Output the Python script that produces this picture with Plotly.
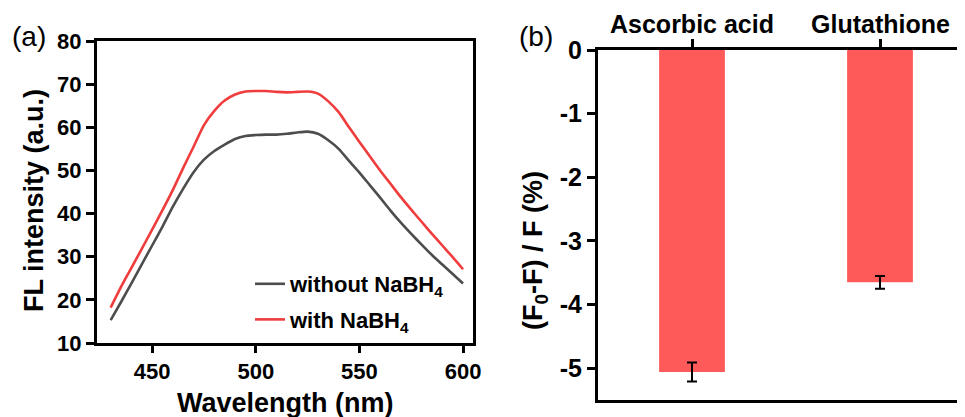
import plotly.graph_objects as go

# ---------------- data ----------------
wavelength = [430, 435, 440, 445, 450, 455, 460, 465, 470, 475, 480, 485, 490, 495,
              500, 505, 510, 515, 520, 525, 530, 535, 540, 545, 550, 555, 560, 565,
              570, 575, 580, 585, 590, 595, 600]
with_nabh4 = [18.2, 23.0, 27.4, 31.8, 36.3, 40.8, 45.5, 50.6, 55.5, 60.5, 63.8, 66.2, 67.6, 68.3,
              68.4, 68.4, 68.2, 68.1, 68.2, 68.3, 67.8, 66.0, 63.5, 60.0, 56.6, 53.3, 50.0, 46.9,
              43.8, 40.9, 38.1, 35.3, 32.6, 29.9, 27.1]
without_nabh4 = [15.3, 19.5, 23.8, 28.2, 32.6, 37.0, 41.6, 45.8, 49.6, 52.5, 54.5, 56.0, 57.3, 58.0,
                 58.2, 58.3, 58.3, 58.5, 58.8, 59.0, 58.5, 57.0, 55.0, 52.2, 49.5, 46.6, 43.7, 40.7,
                 37.9, 35.3, 32.8, 30.4, 28.2, 26.0, 23.8]

substances = ["Ascorbic acid", "Glutathione"]
change_pct = [-5.06, -3.65]
change_err = [0.15, 0.10]

x_ticks_a = [450, 500, 550, 600]
y_ticks_a = [10, 20, 30, 40, 50, 60, 70, 80]
y_ticks_b = [0, -1, -2, -3, -4, -5]
y_ticktext_b = ["0", "-1", "-2", "-3", "-4", "-5"]

# ---------------- figure ----------------
OFF = 8                      # page body margin
W, H = 965 - OFF, 417 - OFF
FONT = "Liberation Sans, Arial, sans-serif"
GRAY = "#4d4d4d"
RED = "#f03c3c"
BAR = "#ff5a5a"


def xp(px):
    return (px - OFF) / W


def yp(py):
    return 1 - (py - OFF) / H


fig = go.Figure()

fig.add_trace(go.Scatter(x=wavelength, y=without_nabh4, mode="lines",
                         line=dict(color=GRAY, width=2.6, shape="spline", smoothing=0.6),
                         name="without NaBH<sub>4</sub>", legendgroup="g1",
                         xaxis="x", yaxis="y"))
fig.add_trace(go.Scatter(x=wavelength, y=with_nabh4, mode="lines",
                         line=dict(color=RED, width=2.6, shape="spline", smoothing=0.6),
                         name="with NaBH<sub>4</sub>", legendgroup="g2",
                         xaxis="x", yaxis="y"))

fig.add_trace(go.Bar(x=substances, y=change_pct, marker=dict(color=BAR, line=dict(width=0)),
                     width=0.35, showlegend=False,
                     error_y=dict(type="data", array=change_err, visible=True,
                                  color="black", thickness=2, width=5),
                     xaxis="x2", yaxis="y2"))


def tf(size):
    return dict(family=FONT, size=size, color="black", weight="bold")


axis_common = dict(showline=True, linecolor="black", linewidth=3, ticks="outside",
                   tickcolor="black", tickwidth=2.5, showgrid=False, zeroline=False,
                   automargin=False)

# right panel: 188 px per category, first category 93 px from the left spine
right_span = (965 - 598) / 188.0

fig.update_layout(
    width=W, height=H,
    margin=dict(l=0, r=0, t=0, b=0),
    paper_bgcolor="white", plot_bgcolor="white",
    font=dict(family=FONT, color="black"),
    xaxis=dict(domain=[xp(97), xp(473)], range=[423.4, 604.8], tickvals=x_ticks_a,
               mirror=True, ticklen=7, anchor="y", tickfont=tf(22), **axis_common),
    yaxis=dict(domain=[yp(343), yp(41)], range=[10, 80], tickvals=y_ticks_a,
               mirror=True, ticklen=8, anchor="x", tickfont=tf(22), **axis_common),
    xaxis2=dict(domain=[xp(598), 1], range=[-0.5, -0.5 + right_span], side="top", mirror=True,
                ticklen=8, anchor="y2", type="category", showticklabels=False, **axis_common),
    yaxis2=dict(domain=[yp(400), yp(50)], range=[-5.5, 0], tickvals=y_ticks_b,
                ticktext=y_ticktext_b, ticklen=8, anchor="x2", tickfont=tf(25), **axis_common),
    legend=dict(x=xp(250), y=yp(263), xanchor="left", yanchor="top",
                bgcolor="rgba(0,0,0,0)", borderwidth=0, tracegroupgap=4,
                font=dict(family=FONT, size=22, color="black", weight="bold")),
)

ann = [
    dict(text="Wavelength (nm)", x=xp(285), y=yp(386), xanchor="center", yanchor="top",
         font=dict(size=27, weight="bold")),
    dict(text="FL intensity (a.u.)", x=xp(34), y=yp(201), textangle=-90,
         xanchor="center", yanchor="middle", font=dict(size=27, weight="bold")),
    dict(text="(F<sub>0</sub>-F) / F (%)", x=xp(535), y=yp(251), textangle=-90,
         xanchor="center", yanchor="middle", font=dict(size=27, weight="bold")),
    dict(text="(a)", x=xp(29), y=yp(37), xanchor="center", yanchor="middle",
         font=dict(size=28)),
    dict(text="(b)", x=xp(536), y=yp(37), xanchor="center", yanchor="middle",
         font=dict(size=28)),
]
for a in ann:
    a.update(xref="paper", yref="paper", showarrow=False)
    a["font"] = dict(family=FONT, color="black", **a["font"])

# category labels above the top axis of panel (b)
for name in substances:
    ann.append(dict(text=name, x=name, xref="x2", y=yp(40), yref="paper",
                    xanchor="center", yanchor="bottom", showarrow=False,
                    font=tf(25)))

fig.update_layout(annotations=ann)

fig.write_html("out.html")
